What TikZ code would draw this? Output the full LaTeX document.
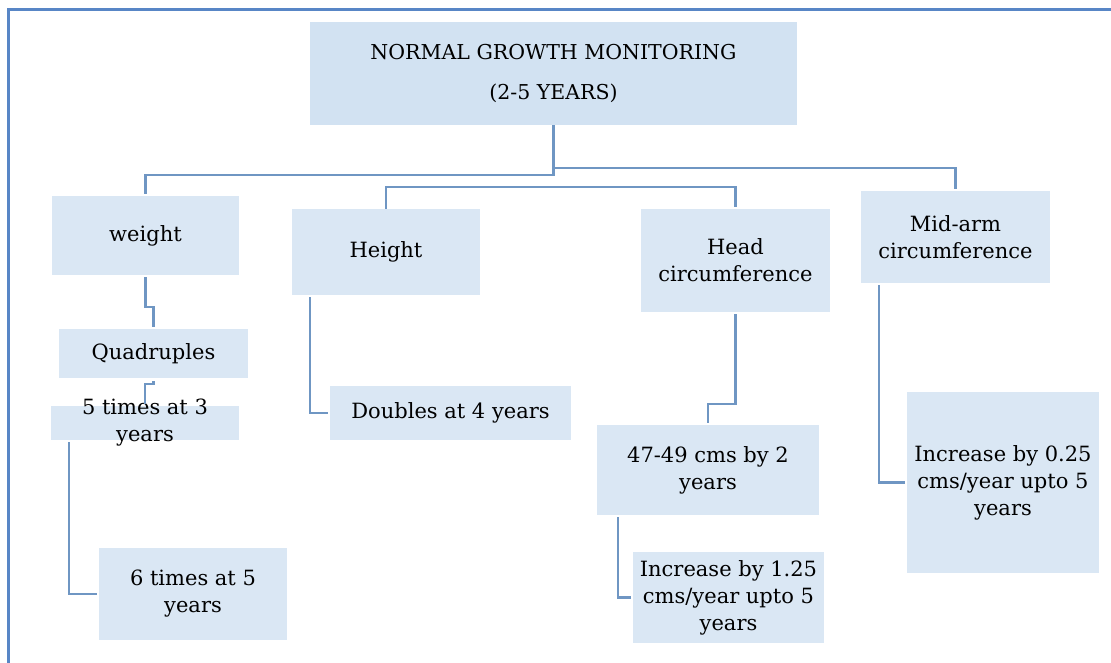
\documentclass[tikz,border=0pt]{standalone}
\usepackage{fontspec}
\setmainfont{DejaVu Serif}

\definecolor{boxblue}{HTML}{DAE7F4}
\definecolor{rootblue}{HTML}{D2E2F2}
\definecolor{linkblue}{HTML}{6F96C3}
\definecolor{framecol}{HTML}{5886C6}

\tikzset{
  box/.style={fill=boxblue, inner sep=0pt, align=center, font=\fontsize{21}{27}\selectfont},
  link/.style={draw=linkblue, line width=2.2pt, shorten >=1.5pt},
}

\begin{document}
\begin{tikzpicture}[x=1pt,y=-1pt]

\useasboundingbox (0,0) rectangle (1111,663);
\draw[framecol, line width=3pt] (8,663) -- (8,10) -- (1111,10);

\node[box, fill=rootblue, minimum width=487pt, minimum height=103pt, font=\fontsize{20.5}{40}\selectfont] (root) at (553.5,73.5) {NORMAL GROWTH MONITORING\\(2-5 YEARS)};

\node[box, minimum width=187pt, minimum height=79pt] (weight) at (145.5,235.5) {weight};
\node[box, minimum width=188pt, minimum height=86pt] (height) at (386,252) {Height};
\node[box, minimum width=189pt, minimum height=103pt] (head) at (735.5,260.5) {Head\\circumference};
\node[box, minimum width=189pt, minimum height=92pt] (midarm) at (955.5,237) {Mid-arm\\circumference};

\node[box, minimum width=189pt, minimum height=49pt] (quad) at (153.5,353.5) {Quadruples};
\node[box, minimum width=188pt, minimum height=34pt] (five) at (145,423) {};
\node[inner sep=0pt, align=center, font=\fontsize{21}{27}\selectfont] (fivetext) at (five) {5 times at 3\\years};
\node[box, minimum width=188pt, minimum height=92pt] (six) at (193,594) {6 times at 5\\years};

\node[box, minimum width=241pt, minimum height=54pt] (doubles) at (450.5,413) {Doubles at 4 years};

\node[box, minimum width=222pt, minimum height=90pt] (g4749) at (708,470) {47-49 cms by 2\\years};
\node[box, minimum width=191pt, minimum height=91pt] (inc125) at (728.5,597.5) {Increase by 1.25\\cms/year upto 5\\years};

\node[box, minimum width=192pt, minimum height=181pt] (inc025) at (1003,482.5) {Increase by 0.25\\cms/year upto 5\\years};

% top level branches
\draw[link] (root.south) -- ++(0,50) -| (weight.north);
\draw[link] ([yshift=-43pt]root.south) -| (midarm.north);
\draw[link] (height.north) |- ([yshift=-62pt]root.south) -| (head.north);

% weight
\draw[link] ([yshift=-2pt]weight.south) -- ++(0,30) -| (quad.north);
\draw[link] ([yshift=-3pt]quad.south) -- ++(0,3) -| (five.north);
\draw[link] ([xshift=-76pt,yshift=-2pt]five.south) |- (six.west);

% height
\draw[link] ([xshift=-76pt,yshift=-2pt]height.south) |- (doubles.west);

% head circumference
\draw[link] ([yshift=-2pt]head.south) -- ++(0,90) -| (g4749.north);
\draw[link] ([xshift=-90pt,yshift=-2pt]g4749.south) |- (inc125.west);

% mid-arm
\draw[link] ([xshift=-76.5pt,yshift=-2pt]midarm.south) |- (inc025.west);

\end{tikzpicture}
\end{document}
